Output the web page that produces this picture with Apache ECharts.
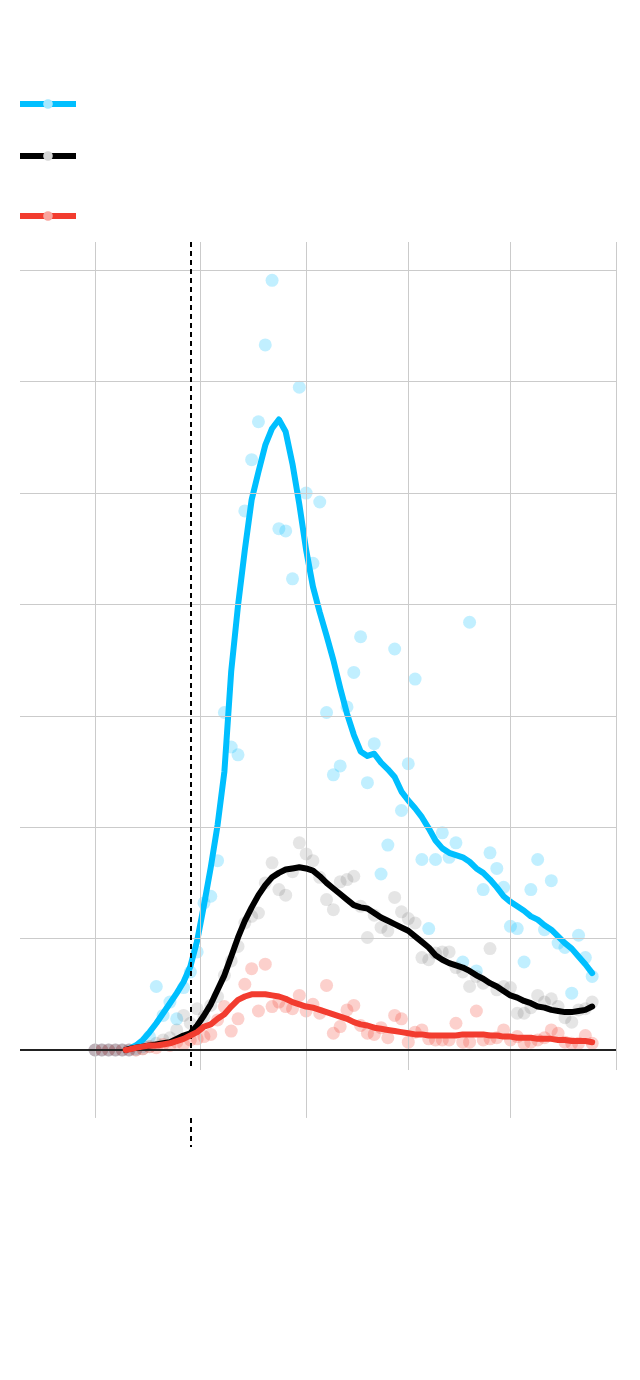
<!DOCTYPE html>
<html>
<head>
<meta charset="utf-8">
<script src="https://cdn.jsdelivr.net/npm/echarts@6/dist/echarts.min.js"></script>
<style>
html,body{margin:0;padding:0;background:#fff;}
#chart{width:640px;height:1380px;}
</style>
</head>
<body>
<div id="chart"></div>
<script>
// ---- data ----
const pointDays = [0,2,4,6,8,10,12,14,16,18,20,22,24,26,28,30,32,34,36,38,40,42,44,46,48,50,52,54,56,58,60,62,64,66,68,70,72,74,76,78,80,82,84,86,88,90,92,94,96,98,100,102,104,106,108,110,112,114,116,118,120,122,124,126,128,130,132,134,136,138,140,142,144,146];
const bluePoints = [0,0,0,0,0,0,1,3,12,57,31,43,28,56,70,88,132,138,170,303,272,265,484,530,564,633,691,468,466,423,595,500,437,492,303,247,255,308,339,371,240,275,158,184,360,215,257,333,171,109,171,195,173,186,79,384,71,144,177,163,146,111,109,79,144,171,108,152,96,92,51,103,83,66];
const grayPoints = [0,0,0,0,0,0,0,1,3,6,9,11,18,31,24,37,30,40,48,67,80,93,114,120,123,150,168,144,139,160,186,176,170,155,135,126,151,153,156,129,101,121,110,107,137,124,118,114,83,81,87,88,88,74,70,57,66,60,91,54,57,56,33,33,38,49,43,46,39,29,25,36,37,43];
const redPoints = [0,0,0,0,0,0,0,1,3,2,5,4,7,5,9,10,12,14,27,39,17,28,59,73,35,77,39,43,39,37,49,35,41,33,58,15,21,36,40,22,15,14,20,11,31,28,7,16,18,10,9,9,9,24,7,7,35,9,10,11,18,9,12,6,7,9,11,18,15,7,6,6,13,6];

const lineDays = [9,10,12,14,16,18,20,22,24,26,28,30,32,34,36,38,40,42,44,46,48,50,52,54,56,58,60,62,64,66,68,70,72,74,76,78,80,82,84,86,88,90,92,94,96,98,100,102,104,106,108,110,112,114,116,118,120,122,124,126,128,130,132,134,136,138,140,142,144,146];
const blueLine = [0,1,4,9,16,24,33,42,51,61,75,98,130,164,202,250,340,399,449,494,519,543,558,566,555,526,490,449,416,393,372,350,325,302,283,268,264,266,258,252,245,232,224,217,209,199,188,181,177,175,173,169,163,159,153,146,138,133,129,125,120,117,112,108,102,96,91,84,77,69];
const blackLine = [0,1,2,3,4,5,6,7,10,13,15,22,31,41,54,67,84,101,116,128,139,148,155,159,162,163,164,163,161,156,150,145,140,135,130,128,127,123,119,116,113,110,107,102,97,92,85,81,78,76,74,71,67,64,60,57,53,49,47,44,42,39,38,36,35,34,34,35,36,39];
const redLine = [0,0.5,2,3,4,4,5,6,8,10,13,16,21,23,28,32,39,45,48,50,50,50,49,48,46,43,41,39,38,36,34,32,30,28,25,23,22,20,19,18,17,16,15,14,14,13,13,13,13,13,14,14,14,14,13,13,12,12,11,11,11,10,10,10,9,9,8,8,8,7];

const yGridValues = [100,200,300,400,500,600,700];
const longTickDays = [0,62,122];
const shortTickDays = [31,92,153];
const eventDay = 28;
const seriesNames = ['A','B','C'];

// ---- layout constants ----
const X_MIN = -22.025, X_MAX = 153;
const Y_MIN = -87.1, Y_MAX = 725.4;
const LONG_BOTTOM = -61, SHORT_BOTTOM = -18;

const BLUE = '#00bfff', BLACK = '#000000', RED = '#f23c2f';

function pairs(xs, ys){ return xs.map((x,i)=>[x, ys[i]]); }

const gridLineStyle = {color:'#cbcbcb', width:1, type:'solid'};
const vertData = [];
longTickDays.forEach(d => vertData.push([{coord:[d, LONG_BOTTOM]},{coord:[d, Y_MAX]}]));
shortTickDays.forEach(d => vertData.push([{coord:[d, SHORT_BOTTOM]},{coord:[d, Y_MAX]}]));

const chart = echarts.init(document.getElementById('chart'), null, {renderer:'canvas'});

function legendFor(name, top){
  return {
    data:[name], left:17, top:top, orient:'vertical', padding:0,
    itemWidth:56, itemHeight:12, itemGap:0,
    formatter:()=> '', textStyle:{fontSize:1},
    lineStyle:{width:6, cap:'butt'},
    selectedMode:false
  };
}

chart.setOption({
  animation:false,
  backgroundColor:'#ffffff',
  legend:[legendFor(seriesNames[0], 98), legendFor(seriesNames[1], 150), legendFor(seriesNames[2], 210)],
  grid:{left:20, right:24, top:242, bottom:233, containLabel:false},
  xAxis:{type:'value', min:X_MIN, max:X_MAX, show:false, splitLine:{show:false}},
  yAxis:{type:'value', min:Y_MIN, max:Y_MAX, show:false, splitLine:{show:false}},
  series:[
    {
      type:'line', data:[], z:1, silent:true,
      markLine:{silent:true, symbol:['none','none'], label:{show:false}, animation:false,
        lineStyle:gridLineStyle,
        data: yGridValues.map(v=>({yAxis:v})).concat(vertData)}
    },
    {type:'scatter', name:seriesNames[0]+' pts', data:pairs(pointDays, bluePoints), symbolSize:13, z:2, silent:true,
      itemStyle:{color:'rgba(0,191,255,0.3)'}},
    {type:'scatter', name:seriesNames[1]+' pts', data:pairs(pointDays, grayPoints), symbolSize:13, z:2, silent:true,
      itemStyle:{color:'rgba(0,0,0,0.13)'}},
    {type:'scatter', name:seriesNames[2]+' pts', data:pairs(pointDays, redPoints), symbolSize:13, z:2, silent:true,
      itemStyle:{color:'rgba(242,60,47,0.3)'}},
    {
      type:'line', data:[], z:3, silent:true,
      markLine:{silent:true, symbol:['none','none'], label:{show:false}, animation:false,
        lineStyle:{color:'#222', width:2, type:'solid'},
        data:[{yAxis:0}]}
    },
    {type:'line', name:seriesNames[0], data:pairs(lineDays, blueLine), showSymbol:false, symbol:'circle', z:4,
      lineStyle:{color:BLUE, width:6, join:'round', cap:'round'}, itemStyle:{color:'#a6e8ff'}, silent:true},
    {type:'line', name:seriesNames[1], data:pairs(lineDays, blackLine), showSymbol:false, symbol:'circle', z:5,
      lineStyle:{color:BLACK, width:6, join:'round', cap:'round'}, itemStyle:{color:'#d6d6d6'}, silent:true},
    {type:'line', name:seriesNames[2], data:pairs(lineDays, redLine), showSymbol:false, symbol:'circle', z:6,
      lineStyle:{color:RED, width:6, join:'round', cap:'round'}, itemStyle:{color:'#f9a49d'}, silent:true},
    {
      type:'line', data:[], z:10, silent:true,
      markLine:{silent:true, symbol:['none','none'], label:{show:false}, animation:false,
        lineStyle:{color:'#000', width:2, type:[5,4]},
        data:[[{coord:[eventDay, Y_MAX]},{coord:[eventDay, SHORT_BOTTOM]}],
              [{coord:[eventDay, LONG_BOTTOM]},{coord:[eventDay, Y_MIN]}]]}
    }
  ]
});
</script>
</body>
</html>
